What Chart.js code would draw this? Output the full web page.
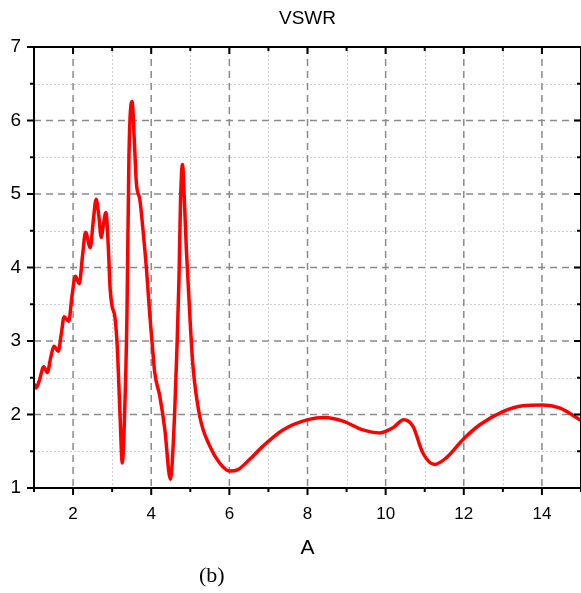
<!DOCTYPE html>
<html>
<head>
<meta charset="utf-8">
<script src="https://cdn.jsdelivr.net/npm/chart.js@4"></script>
<style>
  body { margin: 0; background: #fff; }
  #wrap { position: relative; width: 581px; height: 593px; }
  #caption { position: absolute; left: 199px; top: 562px; font: 22px "Liberation Serif", serif; color: #000; }
</style>
</head>
<body>
<div id="wrap">
  <canvas id="vswr" width="581" height="593"></canvas>
  <div id="caption">(b)</div>
</div>
<script>
// frequency axis values
const freq = [
  1.00, 1.05, 1.13, 1.25, 1.34, 1.43, 1.51, 1.62, 1.70, 1.77, 1.89, 1.97,
  2.06, 2.16, 2.24, 2.32, 2.44, 2.52, 2.59, 2.66, 2.72, 2.78, 2.84, 2.90,
  2.95, 3.00, 3.07, 3.13, 3.20, 3.26, 3.32, 3.38, 3.43, 3.51, 3.57, 3.62,
  3.71, 3.79, 3.88, 3.96, 4.03, 4.09, 4.22, 4.35, 4.49, 4.60, 4.66, 4.71,
  4.75, 4.80, 4.85, 4.90, 4.99, 5.07, 5.24, 5.50, 5.75, 6.01, 6.22, 6.52,
  6.86, 7.37, 8.01, 8.44, 8.91, 9.42, 9.85, 10.19, 10.46, 10.70, 10.95, 11.25,
  11.55, 11.98, 12.41, 13.00, 13.51, 14.02, 14.45, 14.94, 15.00
];
const vswr = [
  2.42, 2.36, 2.45, 2.65, 2.57, 2.78, 2.93, 2.86, 3.10, 3.33, 3.27, 3.60,
  3.88, 3.78, 4.15, 4.48, 4.27, 4.65, 4.93, 4.70, 4.41, 4.60, 4.75, 4.30,
  3.70, 3.47, 3.33, 2.93, 2.02, 1.34, 2.02, 3.38, 5.51, 6.26, 5.70, 5.15,
  4.92, 4.51, 3.97, 3.38, 2.93, 2.57, 2.25, 1.79, 1.12, 2.02, 2.93, 3.83,
  4.90, 5.40, 4.90, 4.24, 3.33, 2.65, 1.98, 1.57, 1.34, 1.23, 1.25, 1.39,
  1.57, 1.79, 1.93, 1.96, 1.91, 1.79, 1.75, 1.82, 1.93, 1.84, 1.48, 1.32,
  1.41, 1.66, 1.86, 2.04, 2.12, 2.13, 2.09, 1.94, 1.92
];
const xTicks = [2, 4, 6, 8, 10, 12, 14];
const yTicks = [1, 2, 3, 4, 5, 6, 7];

const points = freq.map((f, i) => ({ x: f, y: vswr[i] }));

// origin-style grid, frame and tick marks
const frame = {
  id: 'frame',
  beforeDatasetsDraw(chart) {
    const { ctx, chartArea: a, scales: { x, y } } = chart;
    ctx.save();
    ctx.lineWidth = 1;
    ctx.strokeStyle = '#d0d0d0';
    ctx.setLineDash([2, 2]);
    for (let v = 3; v < 15; v += 2) {
      const px = Math.round(x.getPixelForValue(v)) + 0.5;
      ctx.beginPath(); ctx.moveTo(px, a.top); ctx.lineTo(px, a.bottom); ctx.stroke();
    }
    for (let v = 1.5; v < 7; v += 1) {
      const py = Math.round(y.getPixelForValue(v)) + 0.5;
      ctx.beginPath(); ctx.moveTo(a.left, py); ctx.lineTo(a.right, py); ctx.stroke();
    }
    ctx.lineWidth = 1.5;
    ctx.strokeStyle = '#8a8a8a';
    ctx.setLineDash([7, 5]);
    xTicks.forEach(v => {
      const px = x.getPixelForValue(v);
      ctx.beginPath(); ctx.moveTo(px, a.top); ctx.lineTo(px, a.bottom); ctx.stroke();
    });
    yTicks.slice(1, -1).forEach(v => {
      const py = y.getPixelForValue(v);
      ctx.beginPath(); ctx.moveTo(a.left, py); ctx.lineTo(a.right, py); ctx.stroke();
    });
    ctx.restore();
  },
  afterDatasetsDraw(chart) {
    const { ctx, chartArea: a, scales: { x, y } } = chart;
    ctx.save();
    ctx.strokeStyle = '#000';
    ctx.lineWidth = 2;
    ctx.setLineDash([]);
    ctx.strokeRect(a.left, a.top, a.right - a.left, a.bottom - a.top);
    for (let v = 1; v <= 15; v++) {
      const px = x.getPixelForValue(v);
      const len = v % 2 === 0 ? 7 : 4;
      ctx.beginPath(); ctx.moveTo(px, a.bottom); ctx.lineTo(px, a.bottom + len); ctx.stroke();
      ctx.beginPath(); ctx.moveTo(px, a.top); ctx.lineTo(px, a.top + len); ctx.stroke();
    }
    for (let v = 1; v <= 7; v += 0.5) {
      const py = y.getPixelForValue(v);
      const len = Number.isInteger(v) ? 7 : 4;
      ctx.beginPath(); ctx.moveTo(a.left, py); ctx.lineTo(a.left - len, py); ctx.stroke();
      ctx.beginPath(); ctx.moveTo(a.right, py); ctx.lineTo(a.right - len, py); ctx.stroke();
    }
    ctx.restore();
  }
};

new Chart(document.getElementById('vswr'), {
  type: 'line',
  data: {
    datasets: [{
      data: points,
      borderColor: '#ff0000',
      borderWidth: 3.5,
      pointRadius: 0,
      cubicInterpolationMode: 'monotone',
      fill: false
    }]
  },
  options: {
    responsive: false,
    animation: false,
    devicePixelRatio: 1,
    layout: { padding: { top: 0, right: 0, bottom: 32, left: 0 } },
    plugins: { legend: { display: false }, tooltip: { enabled: false } },
    scales: {
      x: {
        type: 'linear',
        position: 'bottom',
        min: 1,
        max: 15,
        afterFit: s => { s.height = 73; s.paddingLeft = 0; s.paddingRight = 0; },
        grid: { display: false, drawTicks: false },
        border: { display: false },
        ticks: {
          stepSize: 1,
          autoSkip: false,
          maxRotation: 0,
          padding: 16,
          color: '#000',
          font: { family: 'Liberation Sans', size: 17 },
          callback: v => (xTicks.includes(v) ? String(v) : '')
        },
        title: {
          display: true,
          text: 'A',
          color: '#000',
          font: { family: 'Liberation Sans', size: 21 },
          padding: { top: 0, bottom: 0 }
        }
      },
      top: {
        type: 'linear',
        position: 'top',
        min: 1,
        max: 15,
        afterFit: s => { s.height = 47; s.paddingLeft = 0; s.paddingRight = 0; },
        grid: { display: false, drawTicks: false },
        border: { display: false },
        ticks: { display: false },
        title: {
          display: true,
          text: 'VSWR',
          color: '#000',
          font: { family: 'Liberation Sans', size: 19 },
          padding: { top: 7, bottom: 0 }
        }
      },
      y: {
        min: 1,
        max: 7,
        afterFit: s => { s.width = 34; },
        grid: { display: false, drawTicks: false },
        border: { display: false },
        ticks: {
          stepSize: 1,
          padding: 13,
          color: '#000',
          font: { family: 'Liberation Sans', size: 19 }
        }
      }
    }
  },
  plugins: [frame]
});
</script>
</body>
</html>
